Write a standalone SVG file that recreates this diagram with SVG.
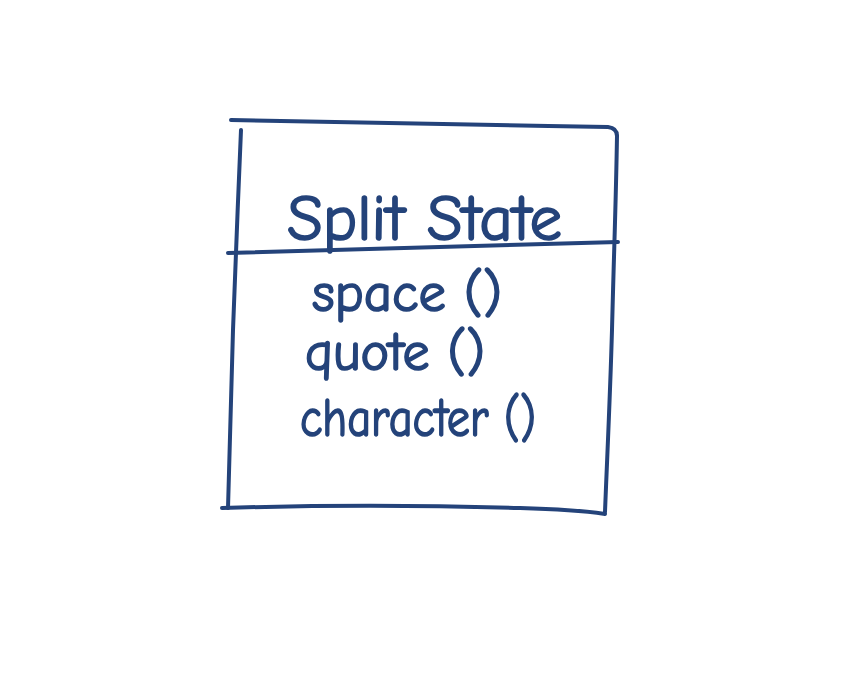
<svg xmlns="http://www.w3.org/2000/svg" width="860" height="675" viewBox="0 0 860 675">
  <style>
    .ink { fill: none; stroke: #24437a; stroke-width: 4; stroke-linecap: round; stroke-linejoin: round; }
    .hand { fill: #24437a; stroke: #24437a; stroke-width: 1.6; stroke-linejoin: round; font-family: "Comic Neue", "Open Sans", "Liberation Sans", sans-serif; }
    .title { font-size: 64px; }
    .op { font-size: 54px; }
  </style>
  <rect width="860" height="675" fill="#ffffff"/>
  <g id="split-state">
    <!-- box outline, sketched -->
    <path class="ink" d="M231,120 C350,122 480,125 608,127 Q617,128 617,136"/>
    <path class="ink" d="M241,130 C238,200 236,250 233,330 C231,400 229,460 228,508"/>
    <path class="ink" d="M617,136 C616,200 614,250 612,330 C610,400 607,460 605,512"/>
    <path class="ink" d="M228,253 C350,250 480,246 618,242"/>
    <path class="ink" d="M222,508 C320,505 420,505 520,508 C560,509 585,511 605,514"/>
    <text class="hand title" x="287" y="240" textLength="275" lengthAdjust="spacingAndGlyphs">Split State</text>
    <text class="hand op" x="312" y="311" textLength="190" lengthAdjust="spacingAndGlyphs">space ()</text>
    <text class="hand op" x="305" y="370" textLength="180" lengthAdjust="spacingAndGlyphs">quote ()</text>
    <text class="hand op" x="300" y="436" textLength="236" lengthAdjust="spacingAndGlyphs">character ()</text>
  </g>
</svg>
